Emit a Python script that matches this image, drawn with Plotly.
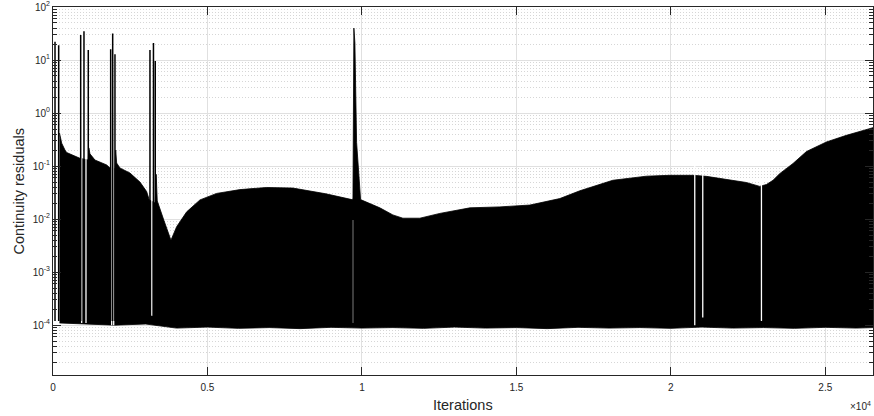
import plotly.graph_objects as go

# ---- data ----
# upper envelope of the dense residual band (iteration, value)
env_iter = [210, 282, 388, 443, 874, 1142, 1160, 1197, 1359, 1738, 1845, 2006, 2030, 2061,
            2168, 2492, 2815, 3032, 3116, 3310, 3340, 3375, 3592, 3818, 4003, 4327, 4757,
            5297, 6051, 6915, 7766, 8834, 9676, 9710, 9740, 9773, 9828, 9912, 9957, 10582,
            11002, 11326, 11876, 12523, 13494, 14465, 15436, 16407, 17054, 18122, 19212,
            19966, 20720, 21153, 21907, 22448, 22879, 23096, 23309, 23525, 23956, 24390,
            25037, 25684, 26545]
env_val = [0.42, 0.27, 0.20, 0.18, 0.14, 0.13, 0.22, 0.17, 0.13, 0.105, 0.092, 0.09, 0.20, 0.114,
           0.092, 0.074, 0.050, 0.033, 0.023, 0.02, 0.07, 0.022, 0.0094, 0.0040, 0.0072, 0.0137, 0.023,
           0.0305, 0.036, 0.0395, 0.0385, 0.030, 0.0233, 0.024, 40, 21, 0.28, 0.040, 0.0233, 0.0163,
           0.012, 0.0104, 0.0104, 0.0128, 0.0163, 0.0170, 0.0184, 0.0244, 0.0342, 0.054, 0.0645,
           0.067, 0.067, 0.064, 0.054, 0.049, 0.0414, 0.045, 0.054, 0.072, 0.112, 0.188,
           0.285, 0.38, 0.53]

# lower edge of the band
floor_iter = [210, 1000, 2000, 3000, 4000, 5000, 6000, 7000, 8000, 9000, 10000, 11000, 12000,
              13000, 14000, 15000, 16000, 17000, 18000, 19000, 20000, 21000, 22000, 23000,
              24000, 25000, 26000, 26545]
floor_val = [1.1e-4, 1.05e-4, 1.0e-4, 1.05e-4, 8.8e-5, 9.2e-5, 8.7e-5, 9.0e-5, 8.6e-5, 9.1e-5,
             8.8e-5, 9.0e-5, 8.7e-5, 9.2e-5, 8.8e-5, 9.0e-5, 8.6e-5, 9.1e-5, 8.8e-5, 9.0e-5,
             8.7e-5, 9.2e-5, 8.8e-5, 9.0e-5, 8.7e-5, 9.1e-5, 8.8e-5, 9.0e-5]

# isolated spikes (restarts)
spike_iter = [65, 184, 896, 1003, 1142, 1867, 1932, 2006, 3139, 3252, 3310]
spike_lo = [1.2e-4, 1.2e-4, 1.2e-4, 1.2e-4, 1.2e-4, 1.2e-4, 1.2e-4, 1.2e-4, 1.5e-4, 1.5e-4, 1.5e-4]
spike_val = [22, 19, 29.6, 35, 15.4, 16, 31.8, 12.9, 15.5, 21, 9.6]

# narrow gaps in the band
gap_iter = [929, 1068, 1900, 1965, 3200, 20775, 21034, 22934]
gap_lo = [1.1e-4, 1.1e-4, 1.0e-4, 1.0e-4, 1.5e-4, 1.0e-4, 1.4e-4, 1.2e-4]
gap_hi = [0.25, 0.25, 0.2, 0.2, 0.1, 0.1, 0.1, 0.06]
faint_gap_iter = [9712]
faint_gap_lo = [1.1e-4]
faint_gap_hi = [0.0096]

xtick_vals = [0, 5000, 10000, 15000, 20000, 25000]
xtick_text = ["0", "0.5", "1", "1.5", "2", "2.5"]
ytick_vals = [1e-4, 1e-3, 1e-2, 1e-1, 1e0, 1e1, 1e2]
ytick_text = ["10<sup>-4</sup>", "10<sup>-3</sup>", "10<sup>-2</sup>", "10<sup>-1</sup>",
              "10<sup>0</sup>", "10<sup>1</sup>", "10<sup>2</sup>"]


def segments(xs, lo, hi):
    sx, sy = [], []
    for x, a, b in zip(xs, lo, hi):
        sx += [x, x, None]
        sy += [a, b, None]
    return sx, sy


fig = go.Figure()

fig.add_trace(go.Scatter(
    x=env_iter + floor_iter[::-1], y=env_val + floor_val[::-1],
    mode="lines", fill="toself", fillcolor="black",
    line=dict(color="black", width=0.8), hoverinfo="skip", showlegend=False))

gx, gy = segments(gap_iter, gap_lo, gap_hi)
fig.add_trace(go.Scatter(x=gx, y=gy, mode="lines", line=dict(color="white", width=1.3),
                         hoverinfo="skip", showlegend=False))
fx, fy = segments(faint_gap_iter, faint_gap_lo, faint_gap_hi)
fig.add_trace(go.Scatter(x=fx, y=fy, mode="lines", line=dict(color="#9a9a9a", width=0.8),
                         hoverinfo="skip", showlegend=False))
sx, sy = segments(spike_iter, spike_lo, spike_val)
fig.add_trace(go.Scatter(x=sx, y=sy, mode="lines", line=dict(color="black", width=1.5),
                         hoverinfo="skip", showlegend=False))

minor_vals = [k * 10.0 ** e for e in range(-5, 2) for k in range(2, 10)]

axis_col = "#262626"
font_fam = "Liberation Sans, Arial, Helvetica, sans-serif"

fig.update_layout(
    width=874, height=416,
    margin=dict(l=53, r=1, t=7, b=41, autoexpand=False),
    paper_bgcolor="white", plot_bgcolor="white",
    font=dict(family=font_fam, size=10, color=axis_col),
    xaxis=dict(
        range=[0, 26545], tickmode="array", tickvals=xtick_vals, ticktext=xtick_text,
        ticks="inside", ticklen=8, tickwidth=1, tickcolor=axis_col,
        showline=True, linecolor=axis_col, linewidth=1, mirror="ticks",
        showgrid=True, gridcolor="#e0e0e0", gridwidth=1, zeroline=False, automargin=False,
        tickfont=dict(size=10, color=axis_col), ticklabelstandoff=3,
    ),
    yaxis=dict(
        type="log", range=[-4.94, 2], tickmode="array", tickvals=ytick_vals, ticktext=ytick_text,
        ticks="inside", ticklen=8, tickwidth=1, tickcolor=axis_col,
        showline=True, linecolor=axis_col, linewidth=1, mirror="ticks",
        showgrid=True, gridcolor="#e0e0e0", gridwidth=1, zeroline=False, automargin=False,
        tickfont=dict(size=10, color=axis_col),
        minor=dict(tickmode="array", tickvals=minor_vals, ticks="inside", ticklen=4,
                   tickcolor=axis_col, showgrid=True, gridcolor="#d6d6d6",
                   griddash="1px,2px", gridwidth=1),
    ),
    annotations=[
        dict(text="Iterations", xref="paper", yref="paper", x=0.5, y=-0.0815,
             xanchor="center", yanchor="middle", showarrow=False,
             font=dict(size=14.5, color=axis_col)),
        dict(text="Continuity residuals", xref="paper", yref="paper", x=-0.042, y=0.5,
             xanchor="center", yanchor="middle", textangle=-90, showarrow=False,
             font=dict(size=14.5, color=axis_col)),
        dict(text="×10<sup>4</sup>", xref="paper", yref="paper", x=1.0, y=-0.083,
             xanchor="right", yanchor="middle", showarrow=False,
             font=dict(size=10, color=axis_col)),
    ],
)

fig.write_html("out.html", config={"displayModeBar": False},
               post_script="document.body.style.margin='0px';")
